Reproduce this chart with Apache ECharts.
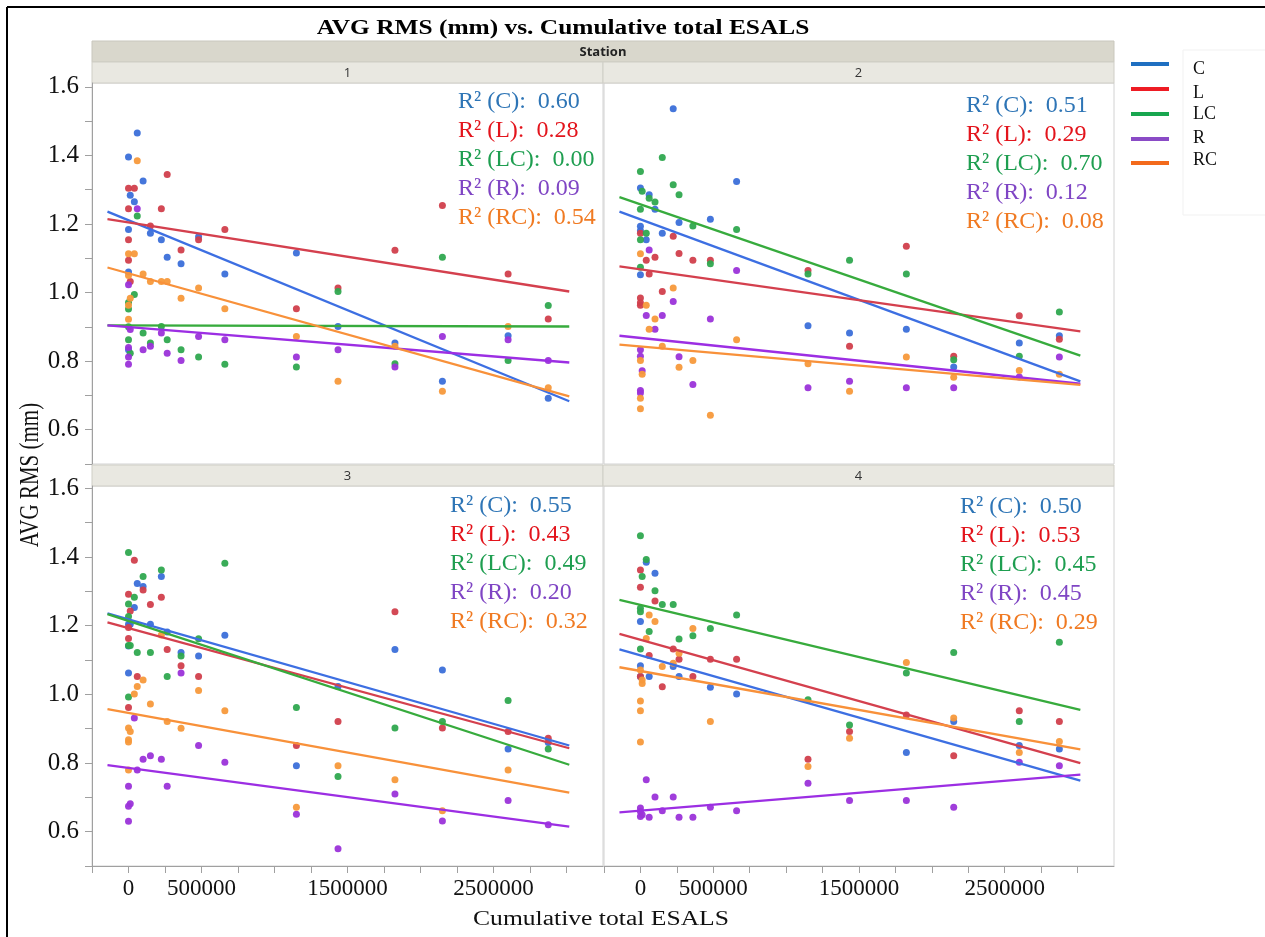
<!DOCTYPE html>
<html><head><meta charset="utf-8">
<script src="https://cdn.jsdelivr.net/npm/echarts@6/dist/echarts.min.js"></script>
<style>html,body{margin:0;padding:0;background:#fff}#c{width:1265px;height:937px}</style>
</head><body><div id="c"></div>
<script>
// ---------- labels ----------
const TITLE = 'AVG RMS (mm) vs. Cumulative total ESALS';
const X_TITLE = 'Cumulative total ESALS';
const Y_TITLE = 'AVG RMS (mm)';
const GROUP_TITLE = 'Station';
const PANELS = ['1', '2', '3', '4'];
const SERIES_NAMES = ['C', 'L', 'LC', 'R', 'RC'];
const X_TICKS = [-250000, 0, 250000, 500000, 750000, 1000000, 1250000, 1500000, 1750000, 2000000, 2250000, 2500000, 2750000, 3000000];
const X_LABELS = [0, 500000, 1500000, 2500000];
const Y_TICKS = [0.5, 0.6, 0.7, 0.8, 0.9, 1.0, 1.1, 1.2, 1.3, 1.4, 1.5, 1.6];
const Y_LABELS = [0.6, 0.8, 1.0, 1.2, 1.4, 1.6];

// ---------- R^2 values (C, L, LC, R, RC) ----------
const P1_R2 = ['0.60', '0.28', '0.00', '0.09', '0.54'];
const P2_R2 = ['0.51', '0.29', '0.70', '0.12', '0.08'];
const P3_R2 = ['0.55', '0.43', '0.49', '0.20', '0.32'];
const P4_R2 = ['0.50', '0.53', '0.45', '0.45', '0.29'];

// ---------- fitted lines: value at FIT_X[0] and FIT_X[1] (C, L, LC, R, RC) ----------
const FIT_X = [-144000, 3019000];
const P1_FIT = [[1.236, 0.683], [1.214, 1.003], [0.904, 0.901], [0.904, 0.796], [1.073, 0.697]];
const P2_FIT = [[1.236, 0.741], [1.076, 0.887], [1.278, 0.816], [0.874, 0.734], [0.848, 0.731]];
const P3_FIT = [[1.236, 0.851], [1.210, 0.843], [1.234, 0.795], [0.794, 0.615], [0.957, 0.714]];
const P4_FIT = [[1.131, 0.749], [1.176, 0.800], [1.275, 0.955], [0.656, 0.766], [1.079, 0.840]];

// ---------- points [ESALS, AVG RMS] ----------
const P1_C = [[0,1.395],[0,1.184],[0,1.06],[0,0.833],[12000,1.284],[40000,1.265],[60000,1.465],[100000,1.325],[150000,1.173],[225000,1.154],[265000,1.103],[360000,1.084],[480000,1.163],[660000,1.054],[1150000,1.115],[1435000,0.901],[1825000,0.853],[2150000,0.741],[2600000,0.874],[2875000,0.692]];
const P1_L = [[0,1.304],[40000,1.304],[265000,1.344],[0,1.244],[225000,1.244],[150000,1.194],[0,1.154],[0,1.094],[480000,1.154],[360000,1.124],[660000,1.184],[12000,1.032],[1150000,0.953],[1435000,1.013],[1825000,1.123],[2150000,1.254],[2600000,1.054],[2875000,0.923]];
const P1_LC = [[60000,1.223],[40000,0.994],[0,0.971],[0,0.952],[0,0.90],[0,0.862],[12000,0.823],[225000,0.901],[100000,0.882],[150000,0.853],[265000,0.862],[360000,0.833],[480000,0.812],[660000,0.791],[1150000,0.783],[1435000,1.003],[1825000,0.792],[2150000,1.103],[2600000,0.802],[2875000,0.962]];
const P1_R = [[60000,1.244],[0,1.023],[12000,0.892],[0,0.84],[0,0.812],[0,0.791],[100000,0.833],[150000,0.843],[225000,0.882],[265000,0.823],[360000,0.802],[480000,0.872],[660000,0.862],[1150000,0.812],[1435000,0.833],[1825000,0.783],[2150000,0.872],[2600000,0.862],[2875000,0.802]];
const P1_RC = [[60000,1.384],[0,1.113],[40000,1.113],[0,1.05],[100000,1.054],[150000,1.032],[225000,1.032],[265000,1.032],[360000,0.983],[480000,1.013],[660000,0.953],[12000,0.983],[0,0.963],[0,0.922],[1150000,0.872],[1435000,0.741],[1825000,0.843],[2150000,0.712],[2600000,0.901],[2875000,0.722]];

const P2_C = [[225000,1.536],[0,1.305],[60000,1.285],[100000,1.243],[660000,1.324],[0,1.193],[0,1.18],[40000,1.154],[150000,1.173],[265000,1.204],[480000,1.214],[0,1.052],[1150000,0.903],[1435000,0.882],[1825000,0.893],[2150000,0.783],[2600000,0.853],[2875000,0.874]];
const P2_L = [[0,1.173],[225000,1.164],[40000,1.094],[100000,1.103],[265000,1.114],[360000,1.094],[480000,1.094],[60000,1.054],[150000,1.003],[0,0.984],[0,0.97],[0,0.963],[1150000,1.064],[1435000,0.843],[1825000,1.135],[2150000,0.814],[2600000,0.932],[2875000,0.864]];
const P2_LC = [[150000,1.394],[0,1.353],[12000,1.295],[60000,1.275],[100000,1.264],[225000,1.314],[265000,1.285],[0,1.243],[40000,1.173],[0,1.154],[360000,1.194],[660000,1.184],[0,1.074],[480000,1.084],[1150000,1.054],[1435000,1.094],[1825000,1.054],[2150000,0.804],[2600000,0.814],[2875000,0.943]];
const P2_R = [[60000,1.124],[660000,1.064],[225000,0.974],[40000,0.933],[150000,0.933],[100000,0.893],[480000,0.923],[0,0.833],[0,0.814],[12000,0.772],[265000,0.813],[360000,0.732],[0,0.714],[0,0.707],[1150000,0.722],[1435000,0.741],[1825000,0.722],[2150000,0.722],[2600000,0.754],[2875000,0.812]];
const P2_RC = [[0,1.113],[40000,0.963],[100000,0.923],[60000,0.893],[225000,1.013],[150000,0.843],[0,0.802],[12000,0.762],[265000,0.782],[360000,0.802],[660000,0.862],[0,0.692],[0,0.661],[480000,0.642],[1150000,0.792],[1435000,0.712],[1825000,0.812],[2150000,0.753],[2600000,0.773],[2875000,0.762]];

const P3_C = [[60000,1.323],[100000,1.314],[225000,1.343],[40000,1.253],[0,1.204],[12000,1.204],[150000,1.204],[265000,1.182],[360000,1.122],[480000,1.112],[660000,1.172],[0,1.141],[0,1.062],[1150000,0.792],[1435000,1.023],[1825000,1.131],[2150000,1.071],[2600000,0.841],[2875000,0.86]];
const P3_L = [[40000,1.391],[100000,1.304],[0,1.292],[225000,1.283],[150000,1.262],[12000,1.243],[0,1.195],[0,1.163],[265000,1.131],[360000,1.083],[480000,1.052],[60000,1.052],[0,0.962],[1150000,0.851],[1435000,0.921],[1825000,1.241],[2150000,0.902],[2600000,0.892],[2875000,0.872]];
const P3_LC = [[0,1.413],[100000,1.343],[225000,1.362],[660000,1.382],[40000,1.283],[0,1.263],[0,1.227],[0,1.142],[12000,1.142],[60000,1.122],[150000,1.122],[360000,1.112],[480000,1.162],[265000,1.052],[0,0.992],[1150000,0.962],[1435000,0.761],[1825000,0.902],[2150000,0.921],[2600000,0.982],[2875000,0.841]];
const P3_R = [[360000,1.062],[40000,0.931],[480000,0.851],[100000,0.811],[150000,0.821],[225000,0.811],[660000,0.802],[60000,0.780],[0,0.732],[265000,0.732],[12000,0.681],[0,0.674],[0,0.630],[1150000,0.651],[1435000,0.550],[1825000,0.710],[2150000,0.631],[2600000,0.691],[2875000,0.620]];
const P3_RC = [[100000,1.042],[60000,1.023],[40000,1.001],[480000,1.011],[150000,0.972],[660000,0.952],[265000,0.921],[360000,0.901],[0,0.902],[12000,0.892],[0,0.868],[0,0.861],[0,0.780],[225000,1.173],[1150000,0.671],[1435000,0.792],[1825000,0.751],[2150000,0.661],[2600000,0.780]];

const P4_C = [[40000,1.385],[100000,1.353],[0,1.212],[0,1.083],[0,1.052],[225000,1.081],[60000,1.052],[265000,1.052],[480000,1.021],[660000,1.001],[1825000,0.831],[2150000,0.921],[2600000,0.851],[2875000,0.841]];
const P4_L = [[0,1.362],[0,1.312],[100000,1.272],[60000,1.113],[225000,1.132],[265000,1.102],[480000,1.102],[660000,1.102],[0,1.052],[150000,1.022],[360000,1.052],[1150000,0.811],[1435000,0.892],[1825000,0.940],[2150000,0.821],[2600000,0.952],[2875000,0.921]];
const P4_LC = [[0,1.462],[40000,1.393],[12000,1.343],[100000,1.302],[150000,1.262],[225000,1.262],[0,1.251],[0,1.241],[660000,1.231],[60000,1.183],[480000,1.192],[360000,1.171],[265000,1.161],[0,1.132],[1150000,0.984],[1435000,0.911],[1825000,1.062],[2150000,1.122],[2600000,0.921],[2875000,1.152]];
const P4_R = [[40000,0.751],[100000,0.701],[225000,0.701],[0,0.669],[0,0.659],[12000,0.649],[0,0.644],[60000,0.642],[150000,0.661],[265000,0.642],[360000,0.642],[480000,0.671],[660000,0.661],[1150000,0.741],[1435000,0.691],[1825000,0.691],[2150000,0.671],[2600000,0.802],[2875000,0.792]];
const P4_RC = [[60000,1.231],[100000,1.212],[360000,1.192],[40000,1.163],[265000,1.120],[0,1.071],[12000,1.042],[12000,1.032],[150000,1.081],[225000,1.091],[0,0.981],[0,0.952],[480000,0.921],[0,0.861],[1150000,0.790],[1435000,0.872],[1825000,1.093],[2150000,0.931],[2600000,0.831],[2875000,0.863]];

// ---------- assembly ----------
const DATA = [
  [P1_C, P1_L, P1_LC, P1_R, P1_RC],
  [P2_C, P2_L, P2_LC, P2_R, P2_RC],
  [P3_C, P3_L, P3_LC, P3_R, P3_RC],
  [P4_C, P4_L, P4_LC, P4_R, P4_RC]
];
const FITS = [P1_FIT, P2_FIT, P3_FIT, P4_FIT];
const R2 = [P1_R2, P2_R2, P3_R2, P4_R2];

const POINT_COLORS = ['#3b6fd9', '#d13f4c', '#2fa84f', '#9b33d9', '#f7993b'];
const LINE_COLORS = ['#3d6fe2', '#d4404e', '#37ab3d', '#9c2ee3', '#f8913a'];
const TEXT_COLORS = ['#2e75b6', '#e3141c', '#1e9e50', '#7f45c4', '#f07a22'];
const LEGEND_COLORS = ['#1f6fc1', '#ee1c24', '#18a64f', '#8a4bc6', '#f36a1c'];

const SERIF = '"Liberation Serif", "Times New Roman", serif';
const SANS = '"Open Sans", "Noto Sans", sans-serif';

const GRIDS = [
  { left: 92, top: 83, width: 511, height: 381 },
  { left: 604, top: 83, width: 510, height: 381 },
  { left: 92, top: 486, width: 511, height: 380 },
  { left: 604, top: 486, width: 510, height: 380 }
];
const Y_MAX = [1.611, 1.611, 1.607, 1.607];

const chart = echarts.init(document.getElementById('c'), null, { renderer: 'canvas' });

const grid = GRIDS.map(g => Object.assign({ show: true, borderColor: '#d2d2d2', borderWidth: 1, backgroundColor: '#ffffff' }, g));

const xAxis = GRIDS.map((g, i) => {
  const bottom = i >= 2;
  return {
    type: 'value', gridIndex: i, min: -250000, max: 3250000,
    splitLine: { show: false },
    axisLine: { show: bottom, onZero: false, lineStyle: { color: '#a0a0a0', width: 1 } },
    axisTick: { show: bottom, inside: false, length: 7, customValues: X_TICKS, lineStyle: { color: '#a0a0a0' } },
    axisLabel: { show: bottom, customValues: X_LABELS, margin: 11, fontFamily: SERIF, fontSize: 23, color: '#111', formatter: v => String(v) }
  };
});

const yAxis = GRIDS.map((g, i) => {
  const left = (i % 2) === 0;
  return {
    type: 'value', gridIndex: i, min: 0.5, max: Y_MAX[i],
    splitLine: { show: false },
    axisLine: { show: left, onZero: false, lineStyle: { color: '#a0a0a0', width: 1 } },
    axisTick: { show: left, inside: false, length: 7, customValues: Y_TICKS, lineStyle: { color: '#a0a0a0' } },
    axisLabel: { show: left, customValues: Y_LABELS, margin: 13, fontFamily: SERIF, fontSize: 25, color: '#111', formatter: v => v.toFixed(1) }
  };
});

const series = [];
DATA.forEach((panel, p) => {
  panel.forEach((pts, k) => {
    series.push({
      name: SERIES_NAMES[k], type: 'scatter', xAxisIndex: p, yAxisIndex: p,
      data: pts, symbol: 'circle', symbolSize: 7, z: 2,
      itemStyle: { color: POINT_COLORS[k], opacity: 0.95 }, silent: true
    });
  });
  panel.forEach((pts, k) => {
    const f = FITS[p][k];
    series.push({
      name: SERIES_NAMES[k] + ' fit', type: 'line', xAxisIndex: p, yAxisIndex: p,
      data: [[FIT_X[0], f[0]], [FIT_X[1], f[1]]], symbol: 'none', z: 3, silent: true,
      lineStyle: { color: LINE_COLORS[k], width: 2.3 }
    });
  });
});

// ---------- decorations ----------
const graphic = [];
graphic.push({ type: 'line', shape: { x1: 7, y1: 7, x2: 1265, y2: 7 }, style: { stroke: '#000', lineWidth: 2 } });
graphic.push({ type: 'line', shape: { x1: 7, y1: 7, x2: 7, y2: 937 }, style: { stroke: '#000', lineWidth: 2 } });
graphic.push({ type: 'text', x: 563, y: 29, scaleX: 1.27, style: { text: TITLE, font: 'bold 20px ' + SERIF, fill: '#000', textAlign: 'center', textVerticalAlign: 'middle' } });
graphic.push({ type: 'rect', shape: { x: 92, y: 41, width: 1022, height: 21 }, style: { fill: '#d9d7cc', stroke: '#c9c7bd', lineWidth: 1 } });
graphic.push({ type: 'text', x: 603, y: 52, style: { text: GROUP_TITLE, font: 'bold 13px ' + SANS, fill: '#222', textAlign: 'center', textVerticalAlign: 'middle' } });
const HEADERS = [
  { x: 92, y: 62, w: 511 }, { x: 603, y: 62, w: 511 },
  { x: 92, y: 465, w: 511 }, { x: 603, y: 465, w: 511 }
];
HEADERS.forEach((h, i) => {
  graphic.push({ type: 'rect', shape: { x: h.x, y: h.y, width: h.w, height: 21 }, style: { fill: '#e9e8e1', stroke: '#cfcec6', lineWidth: 1 } });
  graphic.push({ type: 'text', x: h.x + h.w / 2, y: h.y + 11, style: { text: PANELS[i], font: '13px ' + SANS, fill: '#333', textAlign: 'center', textVerticalAlign: 'middle' } });
});
const ANN = [{ x: 458, y: 102 }, { x: 966, y: 106 }, { x: 450, y: 506 }, { x: 960, y: 507 }];
ANN.forEach((a, p) => {
  SERIES_NAMES.forEach((n, k) => {
    graphic.push({ type: 'text', x: a.x, y: a.y + k * 28.9, z: 10,
      style: { text: 'R\u00B2 (' + n + '):  ' + R2[p][k], font: '24px ' + SERIF, fill: TEXT_COLORS[k], textAlign: 'left', textVerticalAlign: 'middle' } });
  });
});
graphic.push({ type: 'text', x: 601, y: 920, scaleX: 1.28, style: { text: X_TITLE, font: '20px ' + SERIF, fill: '#111', textAlign: 'center', textVerticalAlign: 'middle' } });
graphic.push({ type: 'text', x: 31, y: 475, rotation: Math.PI / 2, scaleY: 1.25, style: { text: Y_TITLE, font: '21px ' + SERIF, fill: '#111', textAlign: 'center', textVerticalAlign: 'middle' } });
graphic.push({ type: 'rect', shape: { x: 1183, y: 50, width: 90, height: 165 }, style: { fill: 'none', stroke: '#f1f1f1', lineWidth: 1 } });
const LEG_LINE_Y = [64, 89, 114, 139, 163];
const LEG_TEXT_Y = [69, 93, 114, 138, 160];
SERIES_NAMES.forEach((n, k) => {
  graphic.push({ type: 'line', shape: { x1: 1131, y1: LEG_LINE_Y[k], x2: 1169, y2: LEG_LINE_Y[k] }, style: { stroke: LEGEND_COLORS[k], lineWidth: 4 } });
  graphic.push({ type: 'text', x: 1193, y: LEG_TEXT_Y[k], style: { text: n, font: '18px ' + SERIF, fill: '#111', textAlign: 'left', textVerticalAlign: 'middle' } });
});

chart.setOption({ animation: false, backgroundColor: '#ffffff', grid, xAxis, yAxis, series, graphic });
</script>
</body></html>
